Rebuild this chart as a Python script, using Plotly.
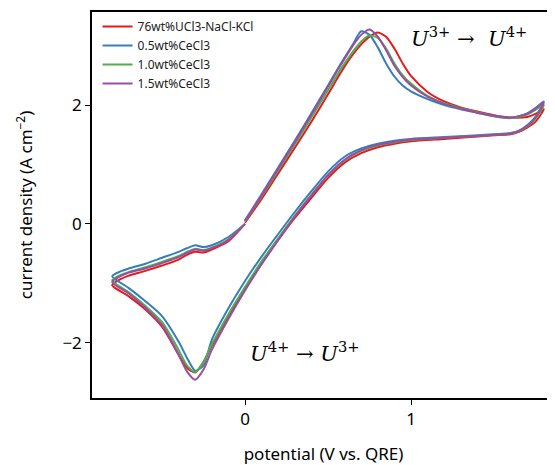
import plotly.graph_objects as go

# Common scan program (potential, V vs. QRE): 0 -> 1.8 -> -0.8 -> 0
potential = [0.0, 0.1, 0.2, 0.3, 0.4, 0.5, 0.55, 0.6, 0.65, 0.7, 0.75, 0.8, 0.85, 0.9, 0.95, 1.0,
             1.1, 1.2, 1.3, 1.4, 1.5, 1.6, 1.7, 1.75, 1.8,
             1.75, 1.7, 1.65, 1.6, 1.5, 1.4, 1.2, 1.0, 0.9, 0.8, 0.7, 0.6, 0.5, 0.4, 0.3, 0.2, 0.1,
             0.0, -0.1, -0.2, -0.25, -0.3, -0.35, -0.4, -0.5, -0.6, -0.7, -0.8,
             -0.75, -0.7, -0.6, -0.5, -0.4, -0.35, -0.3, -0.25, -0.2, -0.1, 0.0]

cur_base = [0.02, 0.42, 0.85, 1.28, 1.72, 2.18, 2.42, 2.65, 2.85, 3.02, 3.15, 3.22, 3.15, 2.95, 2.7, 2.49,
            2.22, 2.06, 1.96, 1.89, 1.83, 1.79, 1.80, 1.85, 1.93,
            1.72, 1.62, 1.55, 1.51, 1.49, 1.47, 1.43, 1.39, 1.35, 1.29, 1.19, 1.03, 0.77, 0.44, 0.10, -0.27, -0.67,
            -1.10, -1.55, -2.05, -2.32, -2.50, -2.42, -2.20, -1.73, -1.44, -1.22, -1.03,
            -0.93, -0.87, -0.79, -0.70, -0.60, -0.52, -0.47, -0.48, -0.43, -0.29, 0.0]

cur_05 = [0.06, 0.50, 0.95, 1.40, 1.86, 2.33, 2.57, 2.80, 3.02, 3.24, 3.18, 2.97, 2.70, 2.48, 2.33, 2.23,
          2.10, 2.00, 1.93, 1.87, 1.81, 1.78, 1.86, 1.95, 2.06,
          1.80, 1.66, 1.57, 1.53, 1.51, 1.49, 1.46, 1.43, 1.40, 1.35, 1.27, 1.13, 0.88, 0.55, 0.20, -0.17, -0.55,
          -0.96, -1.42, -1.95, -2.38, -2.47, -2.25, -1.98, -1.55, -1.30, -1.08, -0.88,
          -0.80, -0.75, -0.67, -0.57, -0.47, -0.41, -0.36, -0.39, -0.36, -0.22, 0.0]

cur_10 = [0.04, 0.46, 0.90, 1.34, 1.79, 2.25, 2.48, 2.70, 2.90, 3.07, 3.17, 3.13, 2.95, 2.70, 2.50, 2.36,
          2.15, 2.03, 1.95, 1.88, 1.82, 1.78, 1.84, 1.92, 2.00,
          1.77, 1.64, 1.56, 1.52, 1.50, 1.48, 1.45, 1.41, 1.37, 1.32, 1.23, 1.07, 0.82, 0.49, 0.14, -0.24, -0.63,
          -1.06, -1.52, -2.03, -2.33, -2.49, -2.38, -2.12, -1.65, -1.38, -1.15, -0.95,
          -0.86, -0.81, -0.73, -0.64, -0.54, -0.47, -0.42, -0.44, -0.40, -0.26, 0.0]

cur_15 = [0.05, 0.48, 0.93, 1.38, 1.84, 2.31, 2.55, 2.78, 3.00, 3.18, 3.27, 3.15, 2.92, 2.66, 2.47, 2.33,
          2.14, 2.02, 1.94, 1.87, 1.82, 1.79, 1.85, 1.94, 2.04,
          1.79, 1.65, 1.56, 1.52, 1.50, 1.48, 1.45, 1.42, 1.38, 1.33, 1.24, 1.08, 0.82, 0.48, 0.12, -0.27, -0.68,
          -1.12, -1.60, -2.12, -2.45, -2.62, -2.48, -2.20, -1.70, -1.41, -1.17, -0.98,
          -0.88, -0.82, -0.75, -0.66, -0.56, -0.49, -0.43, -0.45, -0.41, -0.27, 0.0]

series_names = ["76wt%UCl3-NaCl-KCl", "0.5wt%CeCl3", "1.0wt%CeCl3", "1.5wt%CeCl3"]
series_values = [cur_base, cur_05, cur_10, cur_15]
colors = ["#e41a1c", "#377eb8", "#4daf4a", "#984ea3"]

fig = go.Figure()
for name, vals, col in zip(series_names, series_values, colors):
    fig.add_trace(go.Scatter(x=potential, y=vals, mode="lines", name=name,
                             line=dict(color=col, width=2, shape="spline", smoothing=0.7)))

font_main = "Noto Sans, Open Sans, sans-serif"
fig.update_layout(
    width=555, height=465,
    margin=dict(l=84, r=8, t=2, b=75),
    paper_bgcolor="white", plot_bgcolor="white",
    font=dict(family=font_main, size=17, color="black"),
    showlegend=True,
    legend=dict(x=0.012, y=1.0, xanchor="left", yanchor="top",
                font=dict(size=12, family=font_main, color="#222"),
                bgcolor="rgba(255,255,255,0.8)", itemwidth=30, tracegroupgap=0),
    xaxis=dict(range=[-0.9217, 1.8675], tickvals=[0, 1], ticktext=["0", "1"],
               showgrid=False, zeroline=False, showline=True, linecolor="black", linewidth=1.5,
               mirror=True, ticks="outside", ticklen=5, tickcolor="black",
               title=dict(text="potential (V vs. QRE)", standoff=19, font=dict(size=17))),
    yaxis=dict(range=[-2.929, 3.565], tickvals=[-2, 0, 2],
               showgrid=False, zeroline=False, showline=True, linecolor="black", linewidth=1.5,
               mirror=False, ticks="outside", ticklen=5, tickcolor="black",
               title=dict(text="current density (A cm<sup>\u22122</sup>)", standoff=25, font=dict(size=17))),
)

serif = "DejaVu Serif, Liberation Serif, serif"
fig.add_annotation(x=1.35, y=3.15, xref="x", yref="y", showarrow=False,
                   text="<i>U</i><sup>3+</sup> \u2192  <i>U</i><sup>4+</sup>",
                   font=dict(family=serif, size=21, color="black"))
fig.add_annotation(x=0.36, y=-2.16, xref="x", yref="y", showarrow=False,
                   text="<i>U</i><sup>4+</sup> \u2192 <i>U</i><sup>3+</sup>",
                   font=dict(family=serif, size=21, color="black"))

fig.write_html("out.html")
